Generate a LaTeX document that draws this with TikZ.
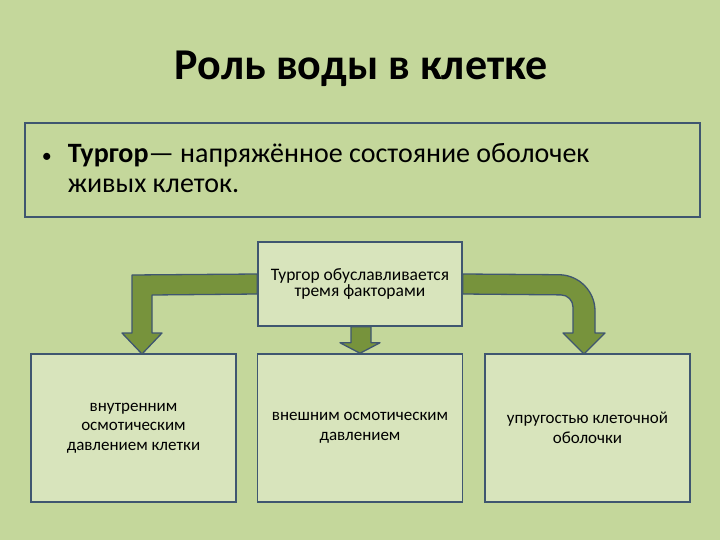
\documentclass[tikz,border=0pt]{standalone}
\usepackage{fontspec}
\setmainfont{Carlito}
\usepackage{xcolor}
\usepackage{tikz}
\usetikzlibrary{positioning,calc,backgrounds}
\definecolor{slidegreen}{HTML}{C4D79B}
\definecolor{boxgreen}{HTML}{D8E4BC}
\definecolor{boxblue}{HTML}{3F5670}
\definecolor{arrowgreen}{HTML}{77933C}

\begin{document}
\begin{tikzpicture}[
    x=1pt, y=-1pt,
    box/.style={draw=boxblue, line width=1.5pt, fill=boxgreen, minimum width=205pt, minimum height=148pt, align=center, font=\fontsize{17}{19.5}\selectfont},
    blockarrow/.style={draw=boxblue, line width=1.3pt, fill=arrowgreen, line join=round}
]
\begin{pgfonlayer}{background}
\fill[slidegreen] (0,0) rectangle (720,540);
\end{pgfonlayer}
\useasboundingbox (0,0) rectangle (720,540);

\node[font=\bfseries\fontsize{44}{50}\selectfont] (title) at (361,69) {Роль воды в клетке};

\node[draw=boxblue, line width=1.5pt, minimum width=675pt, minimum height=94pt] (defbox) at (362.5,170) {};
\node[anchor=west, align=left, font=\fontsize{28}{30}\selectfont] (deftext) at ($(defbox.west)+(14,-2)$)
    {\makebox[26pt][l]{\fontsize{20}{20}\selectfont\textbullet}\textbf{Тургор}— напряжённое состояние оболочек\\\hspace*{26pt}живых клеток.};

\node[box, minimum width=204pt, minimum height=84pt, font=\fontsize{17.5}{16}\selectfont] (cause) at (360,284) {Тургор обуславливается\\тремя факторами};

\node[box] (inner) at (133.5,428) {внутренним\\осмотическим\\давлением клетки};
\node[box] (outer) at (360,428) {внешним осмотическим\\давлением};
\node[box] (wall) at (587.5,428) {упругостью клеточной\\оболочки};

\begin{pgfonlayer}{background}
% left arrow
\draw[blockarrow] ($(cause.west)+(0,-10)$) -- (132,275) -- (132,333) -- (122,333) -- (142,354)
    -- (162,333) -- (152,333) -- (152,295) -- ($(cause.west)+(0,10)$) -- cycle;
% middle arrow
\draw[blockarrow] ($(cause.south)+(-9,0)$) -- ($(cause.south)+(-9,16)$) -- ($(cause.south)+(-20,16)$) -- (outer.north)
    -- ($(cause.south)+(20,16)$) -- ($(cause.south)+(11,16)$) -- ($(cause.south)+(11,0)$) -- cycle;
% right arrow
\draw[blockarrow] ($(cause.east)+(0,-10)$) [rounded corners=36pt] -- (595,275) [sharp corners] -- (595,333) -- (605,333)
    -- (584,354) -- (563,333) -- (573,333) [rounded corners=12pt] -- (573,295) [sharp corners] -- ($(cause.east)+(0,10)$) -- cycle;
\end{pgfonlayer}

\end{tikzpicture}
\end{document}
